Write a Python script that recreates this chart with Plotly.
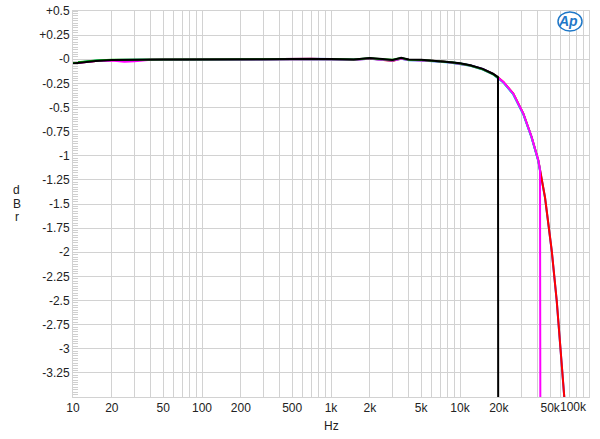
import plotly.graph_objects as go

# ---------------- data ----------------
flat_freq = [10, 12, 15, 20, 25, 30, 40, 50, 70, 100, 150, 200, 300, 500, 700,
             1000, 1500, 2000, 2500, 3000, 3500, 4000, 5000, 6000, 7000, 8500,
             10000, 12000, 15000, 18000]

black_flat = [-0.045, -0.032, -0.018, -0.008, -0.005, -0.004, -0.003, -0.003, -0.002, -0.003,
              -0.002, -0.001, 0.0, 0.003, 0.005, 0.002, -0.003, 0.012, 0.002, -0.008,
              0.015, -0.003, -0.006, -0.013, -0.02, -0.03, -0.042, -0.062, -0.10, -0.15]
green_flat = [-0.035, -0.025, -0.014, -0.006, -0.004, -0.003, -0.003, -0.002, -0.002, -0.002,
              -0.001, -0.001, 0.0, 0.004, 0.006, 0.003, -0.002, 0.010, 0.0, -0.006,
              0.012, -0.004, -0.008, -0.014, -0.022, -0.032, -0.045, -0.065, -0.105, -0.155]
red_flat = [-0.042, -0.03, -0.017, -0.008, -0.012, -0.01, -0.004, -0.003, -0.003, -0.004,
            -0.003, -0.002, 0.0, 0.002, 0.004, 0.001, -0.004, 0.008, -0.006, -0.018,
            0.008, -0.006, -0.01, -0.015, -0.022, -0.033, -0.045, -0.064, -0.102, -0.152]
blue_flat = [-0.04, -0.029, -0.016, -0.007, -0.006, -0.005, -0.003, -0.002, -0.002, -0.003,
             -0.002, -0.001, 0.001, 0.003, 0.004, 0.002, -0.003, 0.009, -0.002, -0.012,
             0.01, -0.005, -0.009, -0.015, -0.021, -0.031, -0.044, -0.063, -0.101, -0.151]
magenta_flat = [-0.044, -0.031, -0.019, -0.014, -0.025, -0.02, -0.006, -0.004, -0.003, -0.004,
                -0.003, -0.002, -0.001, 0.002, 0.004, 0.0, -0.006, 0.006, -0.004, -0.012,
                0.006, -0.008, -0.012, -0.016, -0.023, -0.034, -0.046, -0.066, -0.104, -0.153]
cyan_flat = [-0.038, -0.027, -0.015, -0.007, -0.006, -0.005, -0.004, -0.003, -0.003, -0.004,
             -0.004, -0.003, -0.002, 0.0, 0.002, -0.002, -0.006, 0.004, -0.006, -0.014,
             0.004, -0.01, -0.013, -0.018, -0.025, -0.036, -0.048, -0.068, -0.106, -0.156]

# black end (brick-wall just below 20 kHz); green hidden beneath it
black_tail_freq = [19700, 19800]
black_tail = [-0.185, -5.0]
green_tail_freq = [19700]
green_tail = [-0.19]

# shared roll-off for red/blue/magenta/cyan
roll_freq = [20000, 21700, 25900, 31000, 35900, 40500]
red_roll = [-0.195, -0.235, -0.356, -0.563, -0.805, -1.05]
blue_roll = [-0.2, -0.24, -0.362, -0.57, -0.81, -1.055]
magenta_roll = [-0.198, -0.236, -0.357, -0.565, -0.806, -1.05]
cyan_roll = [-0.203, -0.242, -0.365, -0.572, -0.812, -1.058]

# red / blue continue to ~64 kHz
rb_tail_freq = [45600, 51400, 56200, 60300, 64000, 67000]
red_tail = [-1.43, -1.98, -2.50, -3.02, -3.5, -3.8]
blue_tail = [-1.435, -1.985, -2.505, -3.025, -3.505, -3.805]

# magenta drops near 42 kHz; cyan hidden beneath it
magenta_tail_freq = [41700, 42100]
magenta_tail = [-1.15, -5.0]
cyan_tail_freq = [41700]
cyan_tail = [-1.16]

x_tick_vals = [10, 20, 30, 40, 50, 60, 70, 80, 90,
               100, 200, 300, 400, 500, 600, 700, 800, 900,
               1000, 2000, 3000, 4000, 5000, 6000, 7000, 8000, 9000,
               10000, 20000, 30000, 40000, 50000, 60000, 70000, 80000, 90000, 100000]
x_tick_text = ["10", "20", "", "", "50", "", "", "", "",
               "100", "200", "", "", "500", "", "", "", "",
               "1k", "2k", "", "", "5k", "", "", "", "",
               "10k", "20k", "", "", "50k", "", "", "", "", ""]
y_tick_vals = [0.5, 0.25, 0, -0.25, -0.5, -0.75, -1, -1.25, -1.5, -1.75, -2,
               -2.25, -2.5, -2.75, -3, -3.25, -3.5]
y_tick_text = ["+0.5", "+0.25", "-0", "-0.25", "-0.5", "-0.75", "-1", "-1.25", "-1.5",
               "-1.75", "-2", "-2.25", "-2.5", "-2.75", "-3", "-3.25", ""]

# ---------------- figure ----------------
series = [
    ("blue", "#2040ff", flat_freq + roll_freq + rb_tail_freq, blue_flat + blue_roll + blue_tail),
    ("red", "#ff0000", flat_freq + roll_freq + rb_tail_freq, red_flat + red_roll + red_tail),
    ("cyan", "#00e0e0", flat_freq + roll_freq + cyan_tail_freq, cyan_flat + cyan_roll + cyan_tail),
    ("magenta", "#ff00ff", flat_freq + roll_freq + magenta_tail_freq, magenta_flat + magenta_roll + magenta_tail),
    ("green", "#00c000", flat_freq + green_tail_freq, green_flat + green_tail),
    ("black", "#000000", flat_freq + black_tail_freq, black_flat + black_tail),
]

fig = go.Figure()
for name, color, xs, ys in series:
    fig.add_trace(go.Scatter(x=xs, y=ys, mode="lines", name=name,
                             line=dict(color=color, width=2), hoverinfo="skip"))

font_family = "Liberation Sans, Arial, sans-serif"
grid_col = "#d2d2d2"
txt_col = "#222222"

L, R, T, B = 73, 11, 11, 42
PW, PH = 600 - L - R, 439 - T - B


def px_x(px):
    return (px - L) / PW


def px_y(py):
    return 1 - (py - T) / PH


fig.update_layout(
    width=600, height=439,
    margin=dict(l=L, r=R, t=T, b=B),
    paper_bgcolor="white", plot_bgcolor="white",
    showlegend=False,
    font=dict(family=font_family, size=12, color=txt_col),
    xaxis=dict(type="log", range=[1, 5], tickmode="array",
               tickvals=x_tick_vals, ticktext=x_tick_text, automargin=False,
               showgrid=True, gridcolor=grid_col, gridwidth=1,
               ticks="", showline=True, linecolor=grid_col, mirror=True,
               zeroline=False, tickfont=dict(size=12, color=txt_col)),
    yaxis=dict(range=[-3.5, 0.5], tickmode="array",
               tickvals=y_tick_vals, ticktext=y_tick_text, automargin=False,
               showgrid=True, gridcolor=grid_col, gridwidth=1,
               ticks="", showline=True, linecolor=grid_col, mirror=True,
               zeroline=False, tickfont=dict(size=12, color=txt_col),
               minor=dict(dtick=0.025, ticks="inside", ticklen=5,
                          tickcolor="#cfcfcf", tickwidth=1, showgrid=False)),
)

# 100k label right-aligned at the right edge
fig.add_annotation(x=5, y=px_y(407), xref="x", yref="paper", text="100k", showarrow=False,
                   xanchor="right", yanchor="middle",
                   font=dict(size=12, color=txt_col, family=font_family))
# Hz axis title
fig.add_annotation(x=3, y=px_y(426), xref="x", yref="paper", text="Hz", showarrow=False,
                   xanchor="center", yanchor="middle",
                   font=dict(size=12, color=txt_col, family=font_family))
# dBr stacked letters
for i, ch in enumerate(["d", "B", "r"]):
    fig.add_annotation(x=px_x(16.5), y=px_y(190 + i * 13.5), xref="paper", yref="paper",
                       text=ch, showarrow=False, xanchor="center", yanchor="middle",
                       font=dict(size=12, color=txt_col, family=font_family))

# Ap logo
fig.add_shape(type="circle", xref="paper", yref="paper",
              x0=px_x(558), x1=px_x(582), y0=px_y(31), y1=px_y(12),
              line=dict(color="#1f78c8", width=1.5), fillcolor="white", layer="above")
fig.add_annotation(x=px_x(568), y=px_y(21.5), xref="paper", yref="paper",
                   text="<b><i>Ap</i></b>", showarrow=False, xanchor="center", yanchor="middle",
                   font=dict(size=14, color="#1f78c8", family=font_family))

fig.write_html("out.html", config={"displayModeBar": False},
               post_script="document.body.style.margin='0';document.body.style.padding='0';")
